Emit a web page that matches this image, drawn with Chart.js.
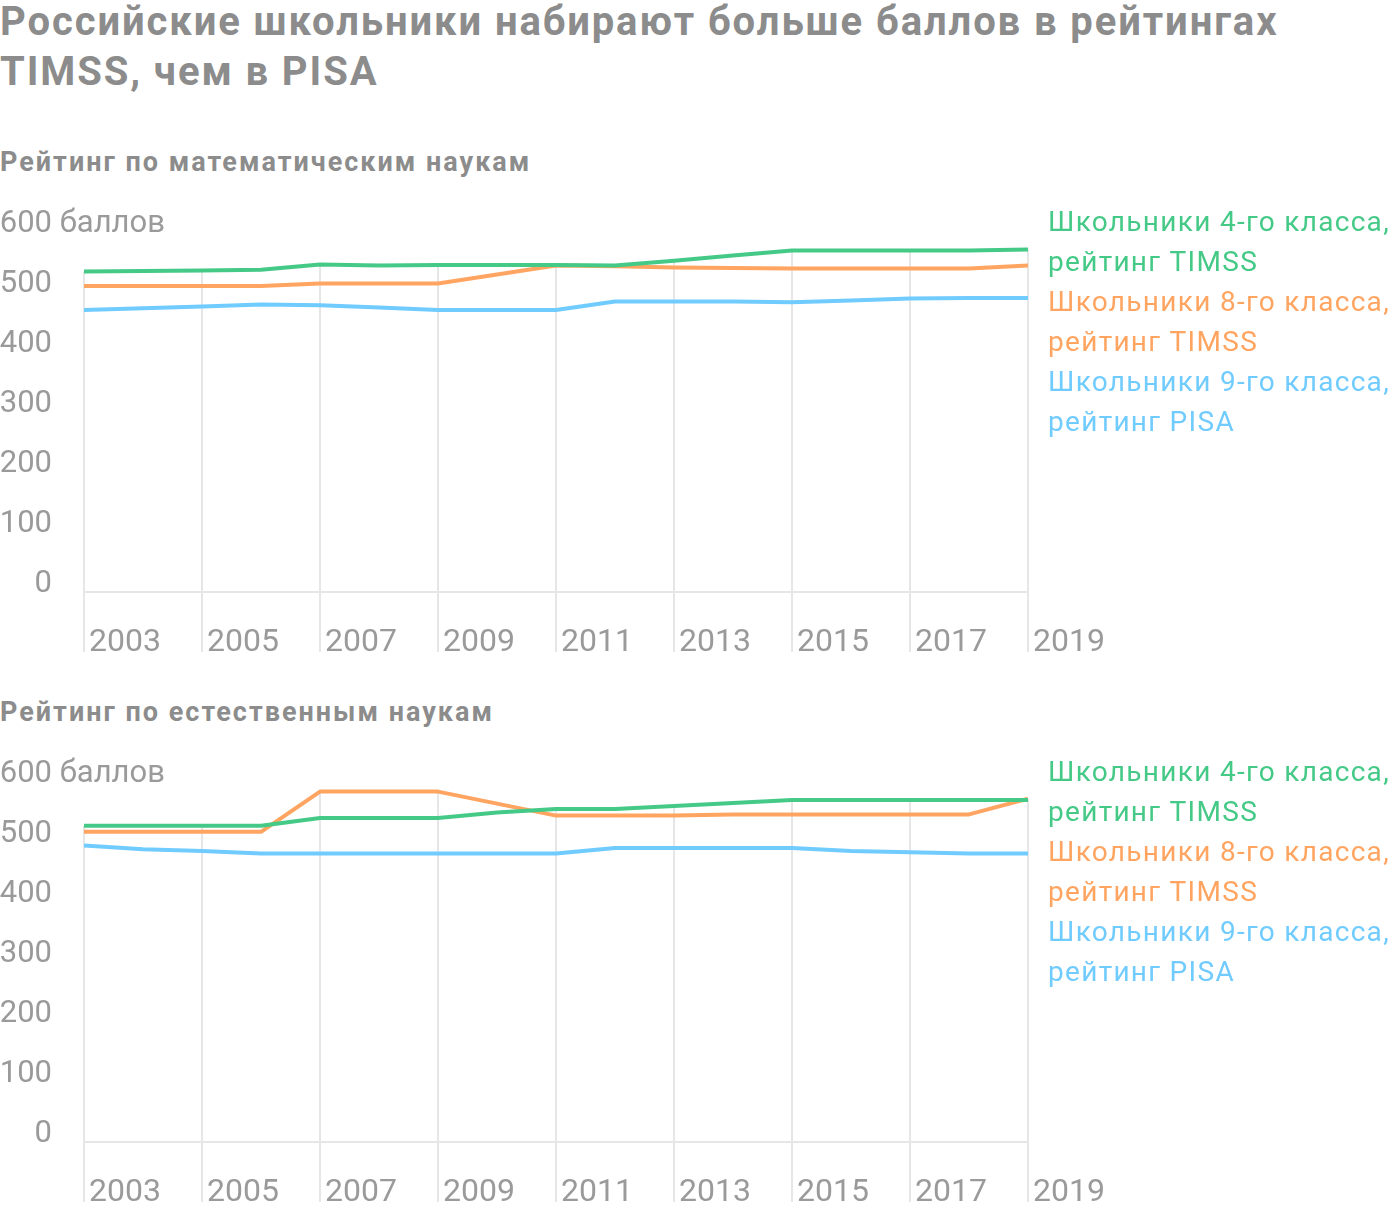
<!DOCTYPE html>
<html lang="ru"><head><meta charset="utf-8">
<script src="https://cdn.jsdelivr.net/npm/chart.js@4"></script>
<style>
body{margin:0;background:#fff;font-family:Roboto,"Noto Sans",sans-serif;}
#wrap{position:relative;width:1400px;height:1212px;overflow:hidden;background:#fff}
.title{position:absolute;left:0;top:-3px;font-weight:700;font-size:40px;line-height:50px;color:#8c8c8c;margin:0;white-space:nowrap;letter-spacing:1.9px}
.sub{position:absolute;left:0;font-weight:700;font-size:27px;line-height:30px;color:#8c8c8c;margin:0;white-space:nowrap;letter-spacing:2px}
canvas{position:absolute;left:0}
.legend{position:absolute;left:1048px;font-size:28px;line-height:40px;white-space:nowrap;letter-spacing:1.3px}
</style></head>
<body><div id="wrap">
<h1 class="title">Российские школьники набирают больше баллов в рейтингах<br>TIMSS, чем в PISA</h1>
<h2 class="sub" style="top:147px">Рейтинг по математическим наукам</h2>
<canvas id="c1" width="1400" height="472" style="top:190px"></canvas>
<div class="legend" id="l1" style="top:202px"></div>
<h2 class="sub" style="top:697px">Рейтинг по естественным наукам</h2>
<canvas id="c2" width="1400" height="472" style="top:740px"></canvas>
<div class="legend" id="l2" style="top:752px"></div>
</div>
<script>
const years = [2003,2004,2005,2006,2007,2008,2009,2010,2011,2012,2013,2014,2015,2016,2017,2018,2019];
const seriesNames = [
  ['Школьники 4-го класса,','рейтинг TIMSS'],
  ['Школьники 8-го класса,','рейтинг TIMSS'],
  ['Школьники 9-го класса,','рейтинг PISA']
];
const seriesColors = ['#45c986','#ffa561','#70cbff'];
const unitLabel = 'баллов';

// Математика
const mathGrade4 = [534,535,536,537,546,544,545,545,545,544,552,561,569,569,569,569,571];
const mathGrade8 = [510,510,510,510,514,514,514,529,544,543,541,540,539,539,539,539,544];
const mathPisa   = [470,473,476,479,478,474,470,470,470,484,484,484,483,486,489,490,490];
// Естественные науки
const sciGrade4  = [527,527,527,527,540,540,540,549,555,555,560,565,570,570,570,570,570];
const sciGrade8  = [517,517,517,517,584,584,584,564,544,544,544,546,546,546,546,546,572];
const sciPisa    = [494,488,485,481,481,481,481,481,481,490,490,490,490,485,483,481,481];

const gridColor = '#e6e6e6';
const textColor = '#9a9a9a';
const xFontSize = 32;
const yFontSize = 31;
Chart.defaults.font.family = 'Roboto';

const dropLines = {
  id:'dropLines',
  beforeDatasetsDraw(chart){
    const {ctx, scales:{x,y}, chartArea} = chart;
    ctx.save();
    ctx.strokeStyle = gridColor; ctx.lineWidth = 2;
    x.ticks.forEach(t=>{
      const i = years.indexOf(t.value);
      let top = chartArea.bottom;
      chart.data.datasets.forEach(ds=>{
        const p = ds.data[i];
        if (p && p.y != null) top = Math.min(top, y.getPixelForValue(p.y));
      });
      const px = Math.round(x.getPixelForValue(t.value));
      ctx.beginPath(); ctx.moveTo(px, top); ctx.lineTo(px, chartArea.bottom + 60); ctx.stroke();
    });
    const by = Math.round(y.getPixelForValue(0));
    ctx.beginPath(); ctx.moveTo(chartArea.left, by); ctx.lineTo(chartArea.right, by); ctx.stroke();
    ctx.restore();
  },
  afterDraw(chart){
    const {ctx, scales:{y}, chartArea} = chart;
    ctx.save();
    ctx.font = yFontSize + 'px Roboto';
    ctx.fillStyle = textColor;
    ctx.textAlign = 'left'; ctx.textBaseline = 'middle';
    const sp = ctx.measureText(' ').width;
    ctx.fillText(unitLabel, chartArea.left - 32 + sp, y.getPixelForValue(600) - 8);
    ctx.restore();
  }
};

function makeChart(id, legendId, seriesList){
  const datasets = seriesList.map((vals, k)=>({
    label: seriesNames[k].join(' '),
    data: years.map((yr,i)=>({x: yr, y: vals[i]})),
    borderColor: seriesColors[k],
    backgroundColor: seriesColors[k],
    borderWidth: 4,
    pointRadius: 0,
    tension: 0,
    spanGaps: true,
    borderJoinStyle: 'round'
  }));
  new Chart(document.getElementById(id), {
    type: 'line',
    data: {datasets},
    options: {
      responsive: false,
      animation: false,
      layout: {padding: {top: 42, right: 372, left: 0, bottom: 0}},
      plugins: {legend: {display: false}, tooltip: {enabled: false}},
      scales: {
        x: {
          type: 'linear', min: 2003, max: 2019,
          grid: {display: false, drawTicks: false},
          border: {display: false},
          ticks: {stepSize: 2, align: 'start', labelOffset: 5, padding: 32, maxRotation: 0, autoSkip: false,
                  color: textColor, font: {size: xFontSize}, callback: v => String(v)},
          afterFit: s => { s.height = 70; s.paddingLeft = 0; s.paddingRight = 0; }
        },
        y: {
          min: 0, max: 600,
          grid: {display: false, drawTicks: false},
          border: {display: false},
          ticks: {stepSize: 100, padding: 32, labelOffset: -8, color: textColor, font: {size: yFontSize}},
          afterFit: s => { s.width = 84; s.paddingTop = 0; s.paddingBottom = 0; }
        }
      }
    },
    plugins: [dropLines]
  });
  const lg = document.getElementById(legendId);
  seriesNames.forEach((lines,k)=>{
    lines.forEach(t=>{
      const d = document.createElement('div');
      d.textContent = t; d.style.color = seriesColors[k];
      lg.appendChild(d);
    });
  });
}
makeChart('c1','l1',[mathGrade4, mathGrade8, mathPisa]);
makeChart('c2','l2',[sciGrade4, sciGrade8, sciPisa]);
</script>
</body></html>
